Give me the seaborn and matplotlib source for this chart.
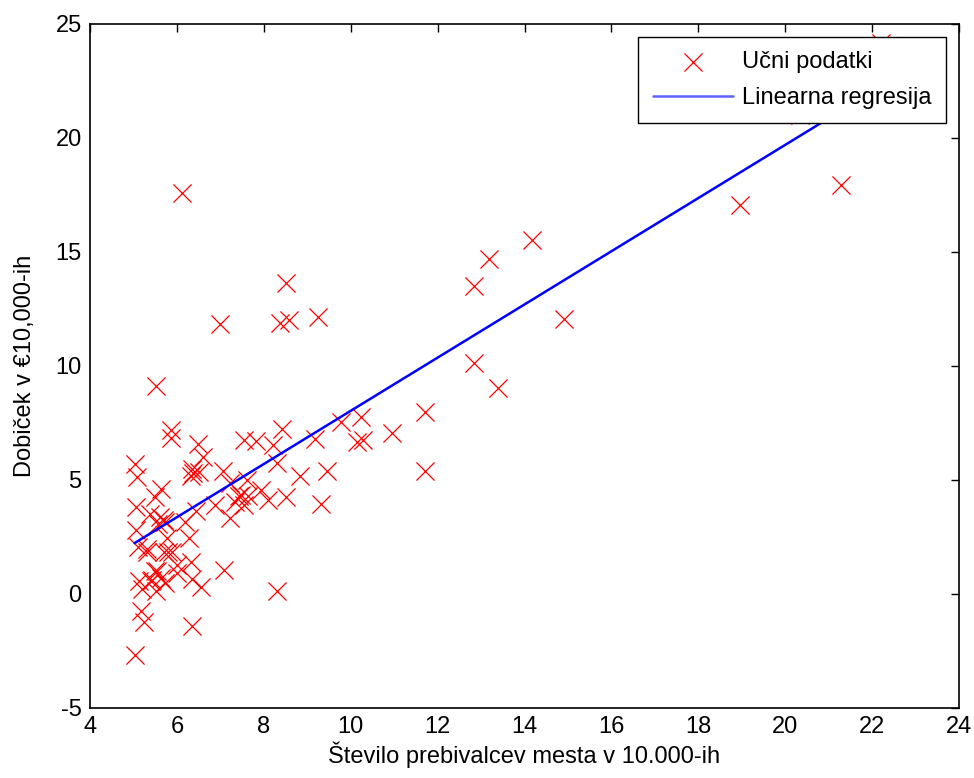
import numpy as np
import pandas as pd
import matplotlib
matplotlib.use('Agg')
import matplotlib.pyplot as plt
import seaborn as sns

# ucni podatki: prebivalci (10.000) in dobicek (10.000 EUR)
population = [6.1101, 5.5277, 8.5186, 7.0032, 5.8598, 8.3829, 7.4764, 8.5781, 6.4862, 5.0546,
              5.7107, 14.164, 5.734, 8.4084, 5.6407, 5.3794, 6.3654, 5.1301, 6.4296, 7.0708,
              6.1891, 20.27, 5.4901, 6.3261, 5.5649, 18.945, 12.828, 10.957, 13.176, 22.203,
              5.2524, 6.5894, 9.2482, 5.8918, 8.2111, 7.9334, 8.0959, 5.6063, 12.836, 6.3534,
              5.4069, 6.8825, 11.708, 5.7737, 7.8247, 7.0931, 5.0702, 5.8014, 11.7, 5.5416,
              7.5402, 5.3077, 7.4239, 7.6031, 6.3328, 6.3589, 6.2742, 5.6397, 9.3102, 9.4536,
              8.8254, 5.1793, 21.279, 14.908, 18.959, 7.2182, 8.2951, 10.236, 5.4994, 20.341,
              10.136, 7.3345, 6.0062, 7.2259, 5.0269, 6.5479, 7.5386, 5.0365, 10.274, 5.1077,
              5.7292, 5.1884, 6.3557, 9.7687, 6.5159, 8.5172, 9.1802, 6.002, 5.5204, 5.0594,
              5.7077, 7.6366, 5.8707, 5.3054, 8.2934, 13.394, 5.4369]
profit = [17.592, 9.1302, 13.662, 11.854, 6.8233, 11.886, 4.3483, 12.0, 6.5987, 3.8166,
          3.2522, 15.505, 3.1551, 7.2258, 0.71618, 3.5129, 5.3048, 0.56077, 3.6518, 5.3893,
          3.1386, 21.767, 4.263, 5.1875, 3.0825, 22.638, 13.501, 7.0467, 14.692, 24.147,
          -1.22, 5.9966, 12.134, 1.8495, 6.5426, 4.5623, 4.1164, 3.3928, 10.117, 5.4974,
          0.55657, 3.9115, 5.3854, 2.4406, 6.7318, 1.0463, 5.1337, 1.844, 8.0043, 1.0179,
          6.7504, 1.8396, 4.2885, 4.9981, 1.4233, -1.4211, 2.4756, 4.6042, 3.9624, 5.4141,
          5.1694, -0.74279, 17.929, 12.054, 17.054, 4.8852, 5.7442, 7.7754, 1.0173, 20.992,
          6.6799, 4.0259, 1.2784, 3.3411, -2.6807, 0.29678, 3.8845, 5.7014, 6.7526, 2.0576,
          0.47953, 0.20421, 0.67861, 7.5435, 5.3436, 4.2415, 6.7981, 0.92695, 0.152, 2.8214,
          1.8451, 4.2959, 7.2029, 1.9869, 0.14454, 9.0551, 0.61705]

# parametri linearne regresije (gradientni spust)
theta = [-3.6303, 1.1664]

df = pd.DataFrame({'x': population, 'y': profit})
df['fit'] = theta[0] + theta[1] * df['x']

sns.set_style('white')
plt.rcParams['font.family'] = ['Liberation Sans', 'DejaVu Sans']
plt.rcParams['axes.unicode_minus'] = False
plt.rcParams['text.color'] = 'black'
plt.rcParams['axes.labelcolor'] = 'black'
plt.rcParams['xtick.color'] = 'black'
plt.rcParams['ytick.color'] = 'black'

fig = plt.figure(figsize=(9.74, 7.78), dpi=100)
ax = fig.add_axes([90 / 974, 1 - 708 / 778, (959 - 90) / 974, (708 - 24) / 778])

sns.scatterplot(data=df, x='x', y='y', ax=ax, marker='x', color='red', s=170,
                linewidth=0.9, label='Učni podatki')
sns.lineplot(data=df.sort_values('x'), x='x', y='fit', ax=ax, color='blue',
             linewidth=1.8, label='Linearna regresija')

ax.set_xlim(4, 24)
ax.set_ylim(-5, 25)
ax.set_xticks(range(4, 25, 2))
ax.set_yticks(range(-5, 26, 5))
ax.set_xlabel('Število prebivalcev mesta v 10.000-ih', fontsize=17, labelpad=2)
ax.set_ylabel('Dobiček v €10,000-ih', fontsize=17, labelpad=14)
ax.tick_params(direction='in', length=6, width=1, labelsize=17, top=True, right=True,
               color='black', labelcolor='black', pad=6)
for sp in ax.spines.values():
    sp.set_color('black')
    sp.set_linewidth(1.2)

leg = ax.legend(loc='upper right', fontsize=17, frameon=True, fancybox=False,
                edgecolor='black', framealpha=1, borderaxespad=0.55, handlelength=3.4,
                borderpad=0.6, labelspacing=0.6, handletextpad=0.4)
leg.get_frame().set_linewidth(1.0)
leg.legend_handles[1].set_color('#6060ff')
for t in leg.get_texts():
    t.set_color('black')

fig.savefig('out.png', dpi=100)
